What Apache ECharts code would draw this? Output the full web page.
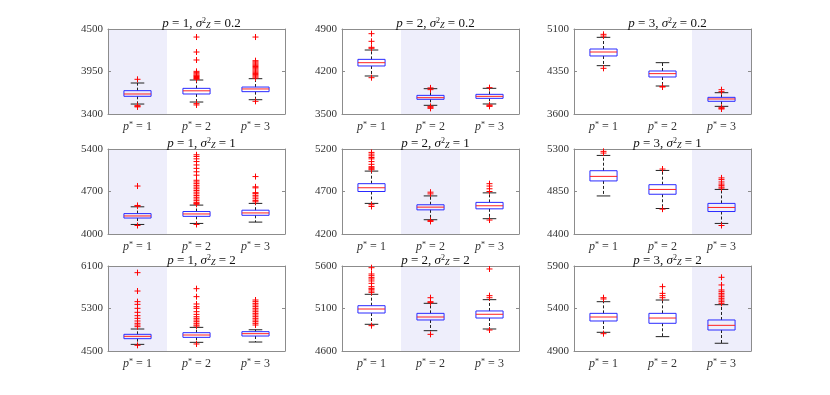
<!DOCTYPE html>
<html>
<head>
<meta charset="utf-8">
<title>boxplots p / sigma</title>
<script src="https://cdn.jsdelivr.net/npm/echarts@6/dist/echarts.min.js"></script>
<style>
html, body { margin: 0; padding: 0; background: #fff; }
#chart { width: 830px; height: 395px; }
</style>
</head>
<body>
<div id="chart"></div>
<script>
// categories on every x axis (p* = 1..3)
const categories = ['1', '2', '3'];
const pValues = ['1', '2', '3'];
const sigmaValues = ['0.2', '1', '2'];

// y ticks, one row per sigma, one entry per p
const ticksS02 = [[3400, 3950, 4500], [3500, 4200, 4900], [3600, 4350, 5100]];
const ticksS1 = [[4000, 4700, 5400], [4200, 4700, 5200], [4400, 4850, 5300]];
const ticksS2 = [[4500, 5300, 6100], [4600, 5100, 5600], [4900, 5400, 5900]];

// box stats per category: [lower whisker, q1, median, q3, upper whisker]
const boxP1S02 = [[3529, 3629, 3659, 3702, 3801], [3555, 3659, 3700, 3732, 3840], [3585, 3689, 3724, 3749, 3857]];
const boxP2S02 = [[4126, 4291, 4345, 4400, 4554], [3643, 3742, 3769, 3807, 3917], [3665, 3758, 3791, 3824, 3923]];
const boxP3S02 = [[4453, 4624, 4694, 4747, 4953], [4094, 4253, 4312, 4359, 4506], [3735, 3824, 3865, 3894, 3976]];
const boxP1S1 = [[4157, 4263, 4297, 4336, 4448], [4174, 4291, 4330, 4370, 4476], [4196, 4308, 4347, 4392, 4504]];
const boxP2S1 = [[4560, 4700, 4744, 4792, 4940], [4368, 4484, 4516, 4544, 4648], [4380, 4496, 4532, 4572, 4684]];
const boxP3S1 = [[4803, 4962, 5010, 5070, 5232], [4670, 4821, 4872, 4922, 5073], [4512, 4638, 4681, 4724, 4872]];
const boxP1S2 = [[4625, 4732, 4776, 4814, 4914], [4663, 4757, 4801, 4845, 4945], [4669, 4782, 4826, 4864, 4900]];
const boxP2S2 = [[4914, 5047, 5094, 5133, 5267], [4839, 4965, 5000, 5043, 5161], [4859, 4988, 5032, 5071, 5204]];
const boxP3S2 = [[5120, 5253, 5300, 5343, 5480], [5069, 5226, 5288, 5343, 5500], [4991, 5147, 5202, 5265, 5445]];

// outliers per category index
const outP1S02 = [
  [3849, 3508, 3492, 3500],
  [4396, 4202, 4099, 3952, 3935, 3920, 3905, 3895, 3885, 3872, 3860, 3850, 3534, 3517],
  [4396, 4090, 4075, 4060, 4045, 4030, 4015, 4000, 3985, 3970, 3955, 3940, 3925, 3910, 3895, 3880, 3865, 3564]
];
const outP2S02 = [[4823, 4697, 4598, 4582, 4098], [3930, 3901, 3626, 3593, 3610], [3934, 3648, 3626, 3635]];
const outP3S02 = [[5006, 4975, 4406], [4076, 4085], [4029, 3994, 3718, 3700, 3688]];
const outP1S1 = [
  [4790, 4470, 4459, 4140],
  [5305, 5277, 5238, 5193, 5137, 5081, 5025, 4969, 4885, 4857, 4829, 4801, 4773, 4745, 4717, 4689, 4661, 4633, 4605, 4577, 4549, 4521, 4504, 4490, 4157],
  [4946, 4777, 4760, 4681, 4665, 4637, 4610, 4580, 4550, 4530]
];
const outP2S1 = [
  [5160, 5140, 5120, 5100, 5084, 5052, 5020, 4992, 4980, 4968, 4956, 4544, 4524],
  [4692, 4672, 4360, 4348],
  [4792, 4764, 4732, 4700, 4364]
];
const outP3S1 = [[5275, 5257], [5088, 4663], [4994, 4976, 4951, 4929, 4915, 4897, 4886, 4490]];
const outP1S2 = [
  [5975, 5629, 5429, 5378, 5303, 5228, 5165, 5115, 5065, 5021, 4989, 4958, 4607],
  [5673, 5523, 5385, 5335, 5303, 5240, 5190, 5146, 5115, 5083, 5052, 5021, 4989, 4970, 4632],
  [5460, 5429, 5397, 5366, 5335, 5303, 5272, 5240, 5209, 5178, 5146, 5115, 5083, 5052, 5021, 4989]
];
const outP2S2 = [
  [5580, 5506, 5486, 5463, 5447, 5424, 5396, 5357, 5337, 5326, 5306, 5290, 4898],
  [5227, 5180, 5169, 4796],
  [5565, 5251, 5227, 4847]
];
const outP3S2 = [[5527, 5512, 5104], [5657, 5578, 5551, 5527], [5767, 5677, 5618, 5598, 5578, 5559, 5539, 5520, 5500, 5480, 5461]];

const rows = [
  { ticks: ticksS02, boxes: [boxP1S02, boxP2S02, boxP3S02], outs: [outP1S02, outP2S02, outP3S02] },
  { ticks: ticksS1, boxes: [boxP1S1, boxP2S1, boxP3S1], outs: [outP1S1, outP2S1, outP3S1] },
  { ticks: ticksS2, boxes: [boxP1S2, boxP2S2, boxP3S2], outs: [outP1S2, outP2S2, outP3S2] }
];

// layout
const gridLeft = [108, 342, 574];
const gridTop = [29, 149, 266];
const gridW = 177;
const gridH = 85;

const FONT = 'Liberation Serif';
const FRAME = '#8c8c8c';
const SHADE = '#eeeefb';

function renderBox(params, api) {
  var x = api.value(0);
  var lo = api.coord([x, api.value(1)]);
  var q1 = api.coord([x, api.value(2)]);
  var md = api.coord([x, api.value(3)]);
  var q3 = api.coord([x, api.value(4)]);
  var hi = api.coord([x, api.value(5)]);
  var band = api.size([1, 0])[0];
  var bw = band * 0.23;
  var cw = band * 0.115;
  var cx = md[0];
  var dash = { stroke: '#222', lineWidth: 1, lineDash: [3, 2] };
  var cap = { stroke: '#222', lineWidth: 1 };
  return {
    type: 'group',
    children: [
      { type: 'line', shape: { x1: cx, y1: q3[1], x2: cx, y2: hi[1] }, style: dash },
      { type: 'line', shape: { x1: cx, y1: q1[1], x2: cx, y2: lo[1] }, style: dash },
      { type: 'line', shape: { x1: cx - cw, y1: hi[1], x2: cx + cw, y2: hi[1] }, style: cap },
      { type: 'line', shape: { x1: cx - cw, y1: lo[1], x2: cx + cw, y2: lo[1] }, style: cap },
      { type: 'rect', shape: { x: cx - bw, y: q3[1], width: 2 * bw, height: q1[1] - q3[1] },
        style: { fill: 'none', stroke: '#2a2aff', lineWidth: 1 } },
      { type: 'line', shape: { x1: cx - bw, y1: md[1], x2: cx + bw, y2: md[1] },
        style: { stroke: '#ff2020', lineWidth: 1 } }
    ]
  };
}

function renderPlus(params, api) {
  var p = api.coord([api.value(0), api.value(1)]);
  var s = 3;
  var st = { stroke: '#ff0000', lineWidth: 1 };
  return {
    type: 'group',
    children: [
      { type: 'line', shape: { x1: p[0] - s, y1: p[1], x2: p[0] + s, y2: p[1] }, style: st },
      { type: 'line', shape: { x1: p[0], y1: p[1] - s, x2: p[0], y2: p[1] + s }, style: st }
    ]
  };
}

var option = {
  animation: false,
  backgroundColor: '#fff',
  title: [],
  grid: [],
  xAxis: [],
  yAxis: [],
  series: []
};

rows.forEach(function (row, r) {
  for (var c = 0; c < 3; c++) {
    var k = r * 3 + c;
    var ticks = row.ticks[c];
    var shade = ['rgba(0,0,0,0)', 'rgba(0,0,0,0)', 'rgba(0,0,0,0)'];
    shade[c] = SHADE;

    option.grid.push({ left: gridLeft[c], top: gridTop[r], width: gridW, height: gridH });

    option.title.push({
      text: '{i|p} = ' + pValues[c] + ', {i|σ}{sup|2}{sub|Z} = ' + sigmaValues[r],
      left: gridLeft[c] + gridW / 2,
      top: gridTop[r] - 17,
      textAlign: 'center',
      textStyle: {
        fontFamily: FONT, fontSize: 13, fontWeight: 'normal', color: '#111',
        rich: {
          i: { fontFamily: FONT, fontSize: 13, fontStyle: 'italic', color: '#111' },
          sup: { fontFamily: FONT, fontSize: 8, verticalAlign: 'top', color: '#111' },
          sub: { fontFamily: FONT, fontSize: 8, fontStyle: 'italic', verticalAlign: 'bottom', color: '#111' }
        }
      }
    });

    // bottom axis with labels and the shaded band
    option.xAxis.push({
      type: 'category', gridIndex: k, data: categories, position: 'bottom',
      axisLine: { onZero: false, lineStyle: { color: FRAME } },
      axisTick: { inside: true, alignWithLabel: true, interval: 0, length: 3, lineStyle: { color: FRAME } },
      axisLabel: {
        interval: 0, margin: 7, color: '#333',
        formatter: function (v) { return '{i|p}{s|*} = ' + v; },
        rich: {
          i: { fontFamily: FONT, fontSize: 12, fontStyle: 'italic', color: '#333' },
          s: { fontFamily: FONT, fontSize: 8, verticalAlign: 'top', color: '#333' }
        },
        fontFamily: FONT, fontSize: 12
      },
      splitArea: { show: true, interval: 0, areaStyle: { color: shade } }
    });
    // top frame
    option.xAxis.push({
      type: 'category', gridIndex: k, data: categories, position: 'top',
      axisLine: { onZero: false, lineStyle: { color: FRAME } },
      axisTick: { inside: true, alignWithLabel: true, interval: 0, length: 3, lineStyle: { color: FRAME } },
      axisLabel: { show: false }
    });
    option.yAxis.push({
      type: 'value', gridIndex: k, min: ticks[0], max: ticks[2], position: 'left',
      axisLine: { show: true, lineStyle: { color: FRAME } },
      axisTick: { show: true, inside: true, length: 3, customValues: ticks, lineStyle: { color: FRAME } },
      axisLabel: {
        customValues: ticks, margin: 5, fontFamily: FONT, fontSize: 11, color: '#333',
        formatter: function (v) { return String(v); }
      },
      splitLine: { show: false }
    });
    option.yAxis.push({
      type: 'value', gridIndex: k, min: ticks[0], max: ticks[2], position: 'right',
      axisLine: { show: true, lineStyle: { color: FRAME } },
      axisTick: { show: true, inside: true, length: 3, customValues: ticks, lineStyle: { color: FRAME } },
      axisLabel: { show: false },
      splitLine: { show: false }
    });

    var boxData = row.boxes[c].map(function (b, i) { return [i].concat(b); });
    var outData = [];
    row.outs[c].forEach(function (list, i) {
      list.forEach(function (v) { outData.push([i, v]); });
    });

    option.series.push({
      type: 'custom', xAxisIndex: 2 * k, yAxisIndex: 2 * k,
      renderItem: renderBox, data: boxData,
      encode: { x: 0, y: [1, 2, 3, 4, 5] }, silent: true
    });
    option.series.push({
      type: 'custom', xAxisIndex: 2 * k, yAxisIndex: 2 * k,
      renderItem: renderPlus, data: outData,
      encode: { x: 0, y: 1 }, silent: true
    });
  }
});

var myChart = echarts.init(document.getElementById('chart'));
myChart.setOption(option);
</script>
</body>
</html>
